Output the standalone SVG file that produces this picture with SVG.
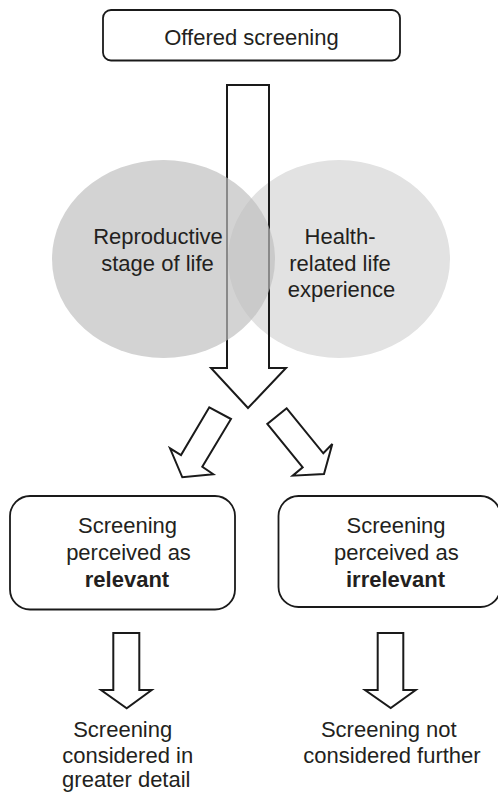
<svg xmlns="http://www.w3.org/2000/svg" width="498" height="794" viewBox="0 0 498 794">
  <style>
    .box { fill: #ffffff; stroke: #1a1a1a; stroke-width: 1.8; }
    .arrow { fill: none; stroke: #1a1a1a; stroke-width: 2; stroke-linejoin: miter; }
    .label { font-family: "Liberation Sans", Arial, sans-serif; font-size: 22px; fill: #231f20; text-anchor: middle; }
    .bold { font-weight: bold; }
  </style>
  <rect width="498" height="794" fill="#ffffff"/>

  <!-- top node -->
  <g id="offered">
    <rect class="box" x="103" y="10" width="297" height="50.5" rx="8"/>
    <text class="label" x="251.5" y="45">Offered screening</text>
  </g>

  <!-- right influence circle sits beneath the main arrow -->
  <g id="health-experience-shape">
    <ellipse cx="339" cy="259" rx="111" ry="99" fill="#e2e2e2"/>
  </g>

  <g id="connectors">
    <!-- main downward arrow -->
    <polygon class="arrow" points="227,85 269,85 269,368 286,368 248,408 211,368 227,368"/>
    <!-- split arrows -->
    <polygon class="arrow" points="209.3,407.3 231,419 202.3,466.7 213.3,474.3 182.3,477.3 170,448.3 181,455"/>
    <polygon class="arrow" points="286.7,408.3 267.3,424 302.7,467.3 292.7,475.7 324,474 332.3,444 323.3,453.3"/>
    <!-- outcome arrows -->
    <polygon class="arrow" points="113.3,633 139.3,633 139.3,690 151.7,690 126.7,708.3 101,690 113.3,690"/>
    <polygon class="arrow" points="377.7,633 403.3,633 403.3,690 415.7,690 390.7,708 365,690 377.7,690"/>
  </g>

  <!-- left influence circle, translucent over the arrow -->
  <g id="reproductive-stage">
    <ellipse cx="163.5" cy="259" rx="111.5" ry="99" fill="#bebebe" fill-opacity="0.68"/>
    <text class="label" x="158" y="244.3">Reproductive</text>
    <text class="label" x="157.5" y="270.7">stage of life</text>
  </g>

  <g id="health-experience">
    <text class="label" x="340" y="244.3">Health-</text>
    <text class="label" x="340" y="270.7">related life</text>
    <text class="label" x="341.5" y="297.3">experience</text>
  </g>

  <g id="relevant">
    <rect class="box" x="10" y="496" width="225" height="113.5" rx="20"/>
    <text class="label" x="127.5" y="533.3">Screening</text>
    <text class="label" x="128.5" y="560">perceived as</text>
    <text class="label bold" x="127" y="586.7">relevant</text>
  </g>

  <g id="irrelevant">
    <rect class="box" x="278.5" y="496" width="222" height="111" rx="20"/>
    <text class="label" x="396" y="533.3">Screening</text>
    <text class="label" x="396.3" y="560">perceived as</text>
    <text class="label bold" x="395.5" y="586.7">irrelevant</text>
  </g>

  <g id="considered-detail">
    <text class="label" x="122.7" y="736.7">Screening</text>
    <text class="label" x="127.7" y="762.7">considered in</text>
    <text class="label" x="126.3" y="786.7">greater detail</text>
  </g>

  <g id="not-considered">
    <text class="label" x="388.8" y="736.7">Screening not</text>
    <text class="label" x="392" y="762.7">considered further</text>
  </g>
</svg>
